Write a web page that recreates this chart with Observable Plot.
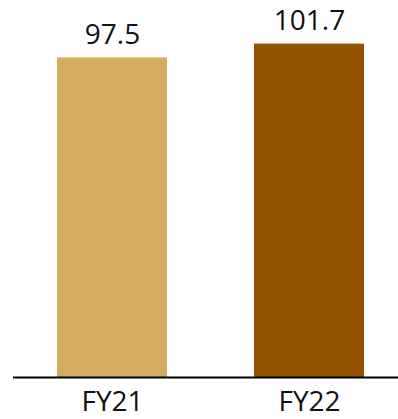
<!DOCTYPE html>
<html>
<head>
<meta charset="utf-8">
<script src="https://cdn.jsdelivr.net/npm/d3@7"></script>
<script src="https://cdn.jsdelivr.net/npm/@observablehq/plot@0.6"></script>
<style>
  html, body { margin: 0; padding: 0; background: #fff; }
  #chart svg { display: block; }
</style>
</head>
<body>
<div id="chart"></div>
<script>
// Fiscal years and their values
const years = ["FY21", "FY22"];
const values = [97.5, 101.7];
const colors = ["#D4AB61", "#955300"];

const data = years.map((year, i) => ({year, value: values[i], color: colors[i]}));

const chart = Plot.plot({
  width: 398,
  height: 419,
  marginTop: 16.4,
  marginBottom: 42,
  marginLeft: 13,
  marginRight: 0,
  style: {fontFamily: "'Open Sans', sans-serif", background: "#fff"},
  x: {domain: years, range: [13.5, 407.5], paddingInner: 0.4416, paddingOuter: 0.2208, label: null},
  y: {domain: [0, 110], axis: null},
  marks: [
    Plot.barY(data, {x: "year", y: "value", fill: "color"}),
    Plot.text(data, {
      x: "year", y: "value", text: d => d.value.toFixed(1),
      lineAnchor: "bottom", dy: -14, fontSize: 28, fill: "#111"
    }),
    Plot.ruleY([0], {stroke: "#000", strokeWidth: 2}),
    Plot.axisX({tickSize: 0, tickPadding: 14, fontSize: 28, color: "#111", label: null})
  ]
});

document.getElementById("chart").append(chart);
</script>
</body>
</html>
